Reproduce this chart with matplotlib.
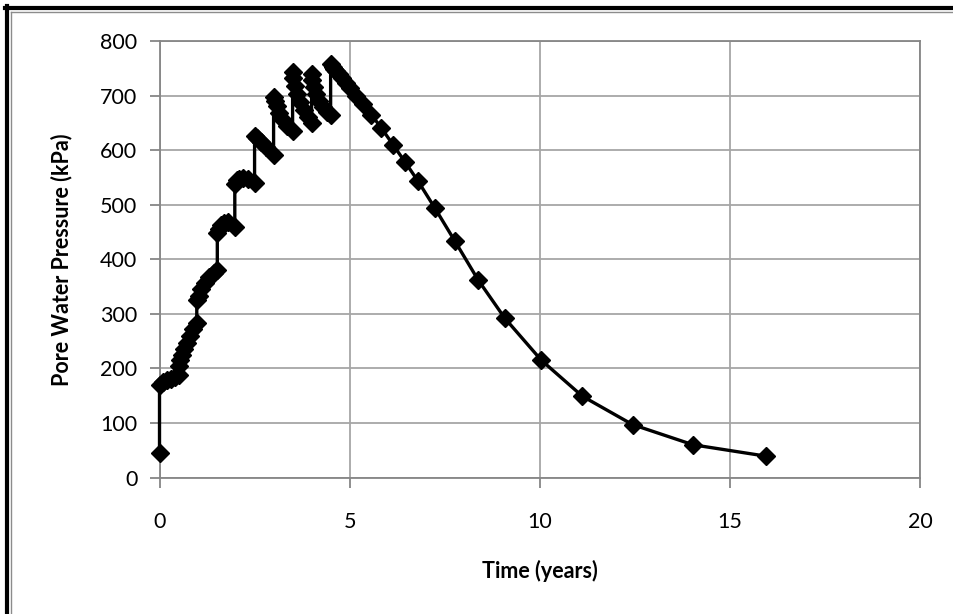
#!/usr/bin/env python3

import matplotlib.pyplot as plt
from matplotlib.lines import Line2D


# Data. Time (years) and pore water pressure (kPa).
time_years = [
    0.0, 0.0, 0.1, 0.2, 0.3, 0.4, 0.5,
    0.5, 0.55, 0.6, 0.65, 0.72, 0.8, 0.88, 0.98,
    0.98, 1.03, 1.1, 1.2, 1.3, 1.42, 1.52,
    1.52, 1.56, 1.62, 1.7, 1.8, 1.98,
    1.98, 2.03, 2.1, 2.2, 2.32, 2.5,
    2.5, 2.56, 2.66, 2.8, 3.0,
    3.0, 3.03, 3.08, 3.15, 3.24, 3.35, 3.5,
    3.5, 3.52, 3.56, 3.62, 3.7, 3.8, 3.9, 4.0,
    4.0, 4.02, 4.06, 4.12, 4.2, 4.3, 4.4, 4.5,
    4.5, 4.55, 4.6, 4.65, 4.72, 4.8, 4.9, 5.02, 5.17, 5.35, 5.57, 5.83,
    6.14, 6.45, 6.8, 7.24, 7.77, 8.38, 9.08, 10.04, 11.12, 12.44, 14.03,
    15.96,
]
pressure_kpa = [
    45, 170, 175, 178, 181, 184, 188,
    205, 215, 225, 235, 247, 260, 272, 283,
    325, 333, 345, 357, 367, 375, 381,
    448, 455, 462, 466, 468, 460,
    538, 545, 548, 549, 547, 540,
    625, 622, 615, 605, 592,
    698, 690, 680, 668, 656, 645, 635,
    743, 732, 718, 703, 688, 673, 660, 650,
    739, 728, 715, 702, 690, 679, 670, 664,
    757, 753, 749, 745, 739, 732, 723, 713, 700, 684, 665, 641,
    610, 579, 543, 494, 433, 362, 292, 215, 149, 97, 60,
    39,
]
x_ticks = [0, 5, 10, 15, 20]
y_ticks = [0, 100, 200, 300, 400, 500, 600, 700, 800]


plt.rcParams['font.family'] = ['Lato', 'DejaVu Sans']

# Figure. 954x614 pixels.
fig = plt.figure(figsize=(9.54, 6.14), dpi=100)
ax = fig.add_axes((0.1672, 0.2223, 0.7972, 0.7109))

# Plot. Markers at the axis edge are drawn whole.
ax.plot(time_years, pressure_kpa, color='black', lw=2.4, marker='D',
        ms=8.8, mec='black', mfc='black', zorder=3, clip_on=False)

# Axes.
ax.set_xlim(0, 20)
ax.set_ylim(0, 800)
ax.set_xticks(x_ticks)
ax.set_yticks(y_ticks)
ax.grid(True, color='#a6a6a6', lw=1.3)
ax.set_axisbelow(True)
for s in ax.spines.values():
    s.set_color('#868686')
    s.set_linewidth(1.3)
ax.tick_params(direction='out', length=7, width=1.3, color='#868686',
               labelsize=15.5)
ax.tick_params(axis='x', pad=18)
ax.tick_params(axis='y', pad=9)
ax.set_xlabel('Time (years)', fontsize=15.5, fontweight='bold', labelpad=20)
ax.set_ylabel('Pore Water Pressure (kPa)', fontsize=15.5, fontweight='bold',
              labelpad=20)

# Frame round the chart, in figure pixels.
W, H = 954, 614
def px_line(x, y, **kw):
    fig.add_artist(Line2D([v / W for v in x], [1 - v / H for v in y],
                          transform=fig.transFigure, **kw))

px_line([5, W], [7.5, 7.5], color='black', lw=3)
px_line([7, 7], [6, H], color='black', lw=3)
px_line([11.5, W], [11.5, 11.5], color='#8c8c8c', lw=1)
px_line([11.5, 11.5], [11.5, H], color='#8c8c8c', lw=1)

fig.savefig('out.png', dpi=100)
